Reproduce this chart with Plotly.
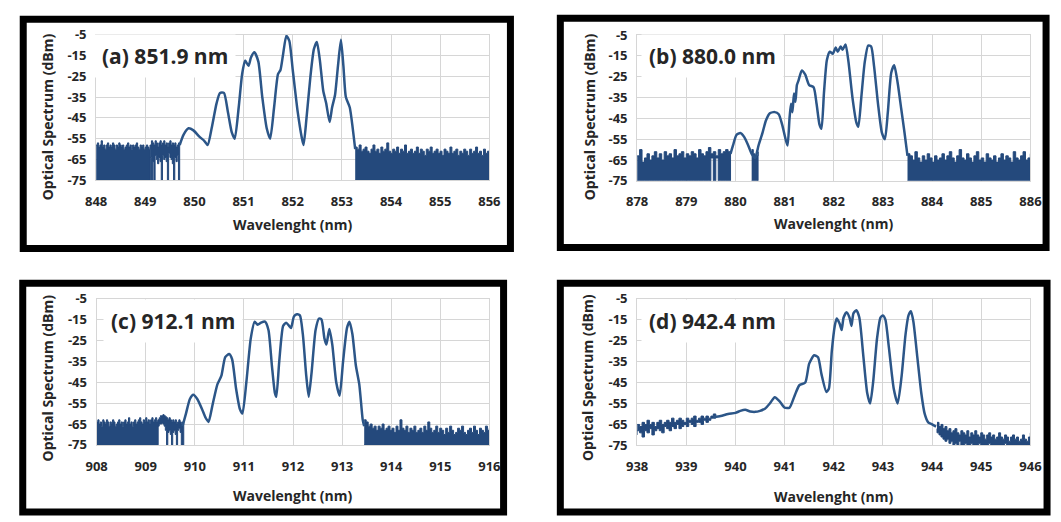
import plotly.graph_objects as go

W, H = 1061, 522
YMIN, YMAX = -75, -5

# ---------------- DATA ----------------
LABELS = ["(a) 851.9 nm", "(b) 880.0 nm", "(c) 912.1 nm", "(d) 942.4 nm"]
X_RANGES = [(848, 856), (878, 886), (908, 916), (938, 946)]
Y_TICKS = [-5, -15, -25, -35, -45, -55, -65, -75]
X_TITLE = "Wavelenght (nm)"
Y_TITLE = "Optical Spectrum (dBm)"

# (a) 851.9 nm
A_X = [849.70, 849.78, 849.88, 849.98, 850.10, 850.20, 850.27, 850.35, 850.45, 850.52,
       850.60, 850.68, 850.76, 850.82, 850.90, 850.97, 851.03, 851.10, 851.15, 851.22,
       851.30, 851.38, 851.47, 851.54, 851.62, 851.70, 851.75, 851.80, 851.87, 851.93,
       852.00, 852.10, 852.18, 852.22, 852.28, 852.36, 852.43, 852.49, 852.55, 852.62,
       852.68, 852.75, 852.80, 852.86, 852.92, 852.98, 853.03, 853.08, 853.16, 853.22, 853.27]
A_Y = [-58, -53, -50, -51, -54, -56, -58, -50, -38, -33,
       -33, -42, -52, -55, -40, -24, -17.5, -20, -16, -13.5,
       -18, -35, -50, -55, -40, -24, -22, -15, -5.5, -8,
       -22, -42, -54, -58, -45, -25, -12, -8.5, -17, -32,
       -38, -47, -40, -34, -20, -7.5, -20, -35, -40, -50, -60]
A_N1_RANGE = (848.0, 849.1)
A_N1_TOP = [-58, -57, -59, -58, -56, -59, -58, -60, -58, -57, -59, -58, -59, -57, -58,
            -60, -58, -59, -57, -58, -59, -58, -60, -59, -58, -57, -59, -58, -60, -58,
            -59, -58, -57, -59, -60, -58, -59, -58, -60, -59, -58, -59, -60, -58]
A_N2_RANGE = (849.1, 849.7)
A_N2_TOP = [-58, -56, -57, -58, -56, -57, -59, -57, -56, -58, -57, -56, -58, -57, -59,
            -57, -56, -58, -57, -58, -57, -59, -58, -57, -58]
A_N2_BOT = [-75, -64, -75, -66, -75, -63, -65, -67, -64, -66, -75, -63, -65, -64, -66,
            -75, -62, -64, -65, -67, -75, -64, -66, -63, -75]
A_N3_RANGE = (853.27, 856.0)
A_N3_TOP = [-59, -60, -58, -61, -60, -59, -61, -62, -60, -58, -61, -60, -62, -59, -61,
            -60, -57, -61, -62, -60, -61, -59, -62, -60, -61, -58, -62, -61, -60, -62,
            -61, -59, -62, -60, -61, -63, -60, -61, -59, -62, -61, -60, -62, -61, -63,
            -60, -61, -62, -59, -62, -61, -60, -63, -61, -62, -60, -61, -63, -60, -62,
            -61, -59, -62, -61, -63, -60, -62, -61, -62]

# (b) 880.0 nm
B_X = [879.90, 879.95, 880.02, 880.10, 880.18, 880.26, 880.33, 880.40, 880.47, 880.55,
       880.62, 880.70, 880.80, 880.88, 880.95, 881.02, 881.06, 881.10, 881.13, 881.16,
       881.19, 881.22, 881.25, 881.28, 881.35, 881.42, 881.50, 881.59, 881.65, 881.71,
       881.75, 881.80, 881.86, 881.92, 881.98, 882.04, 882.08, 882.14, 882.18, 882.24,
       882.30, 882.38, 882.46, 882.50, 882.56, 882.63, 882.70, 882.76, 882.82, 882.90,
       882.98, 883.04, 883.10, 883.17, 883.23, 883.30, 883.37, 883.44, 883.50]
B_Y = [-62, -58, -53, -52, -54, -58, -62, -64, -58, -52,
       -46, -42.5, -42, -43, -48, -55, -58, -45, -38, -42,
       -33, -37, -29, -27, -22, -24, -29, -30, -38, -48,
       -50, -33, -17, -13, -14, -11, -13, -10.5, -12, -9.5,
       -18, -35, -47, -49, -35, -18, -10, -10.5, -20, -38,
       -52, -55, -42, -23, -19.5, -28, -40, -52, -63]
B_N1_RANGE = (878.0, 879.9)
B_N1_TOP = [-63, -60, -66, -64, -62, -65, -63, -61, -64, -62, -65, -61, -63, -62, -64,
            -60, -63, -62, -61, -64, -62, -63, -61, -62, -64, -60, -62, -63, -61, -59,
            -62, -61, -63, -60, -62, -61, -60, -61, -62]
B_N1_BOT = [-75, -75, -75, -75, -75, -75, -75, -75, -75, -75, -75, -75, -75, -75, -75,
            -75, -75, -75, -75, -75, -75, -75, -75, -75, -75, -75, -75, -75, -75, -75,
            -75, -64, -75, -64, -75, -75, -75, -75, -75]
B_N2_RANGE = (880.33, 880.46)
B_N2_TOP = [-60, -62, -64, -63, -61]
B_N3_RANGE = (883.5, 886.0)
B_N3_TOP = [-62, -63, -65, -61, -64, -66, -63, -65, -62, -64, -66, -63, -65, -64, -62,
            -65, -63, -61, -64, -66, -63, -60, -64, -65, -62, -64, -66, -63, -61, -65,
            -64, -66, -62, -64, -65, -63, -66, -64, -62, -65, -63, -64, -66, -61, -64,
            -65, -63, -61, -65, -64, -62]

# (c) 912.1 nm
C_X = [909.75, 909.82, 909.90, 909.97, 910.05, 910.15, 910.22, 910.28, 910.36, 910.46,
       910.54, 910.62, 910.70, 910.76, 910.84, 910.92, 910.97, 911.05, 911.14, 911.22,
       911.28, 911.35, 911.43, 911.50, 911.57, 911.63, 911.66, 911.72, 911.80, 911.86,
       911.92, 911.96, 912.02, 912.08, 912.14, 912.20, 912.27, 912.32, 912.38, 912.46,
       912.53, 912.58, 912.64, 912.68, 912.74, 912.80, 912.88, 912.95, 913.02, 913.10,
       913.15, 913.21, 913.28, 913.35, 913.42, 913.45]
C_Y = [-66, -60, -53, -51, -53, -58, -62, -64, -56, -46,
       -42, -33, -31.5, -34, -48, -58, -60, -45, -24, -16,
       -17.5, -16.5, -16, -20, -37, -50, -52, -35, -18, -16.5,
       -18, -19, -13.5, -12.5, -13, -22, -42, -52, -40, -20,
       -14.5, -15, -24, -27, -19.5, -27, -45, -51.5, -35, -19,
       -16, -22, -37, -46, -63, -66]
C_N1_RANGE = (908.0, 909.25)
C_N1_TOP = [-64, -63, -65, -64, -66, -63, -64, -65, -63, -64, -66, -64, -65, -63, -64,
            -66, -65, -64, -63, -65, -64, -66, -64, -63, -65, -64, -62, -65, -64, -66,
            -64, -63, -65, -64, -63, -62, -64, -65, -63, -64, -62, -64, -63, -65, -63,
            -62, -64, -63, -62, -64, -63]
C_N2_RANGE = (909.25, 909.775)
C_N2_TOP = [-63, -62, -61, -61, -60.5, -61, -61.5, -62, -63, -62, -63, -64, -63, -64,
            -63, -65, -64, -63, -64, -65, -64, -66]
C_N2_BOT = [-75, -66, -65, -65, -64.5, -65, -66, -68, -75, -69, -68, -70, -75, -69,
            -68, -70, -75, -68, -67, -69, -75, -75]
C_N3_RANGE = (913.45, 916.0)
C_N3_TOP = [-63, -64, -66, -65, -67, -66, -68, -66, -67, -65, -68, -67, -66, -68, -67,
            -69, -66, -68, -63, -67, -68, -66, -69, -67, -68, -66, -69, -68, -67, -69,
            -66, -68, -64, -67, -69, -68, -66, -69, -67, -68, -70, -67, -69, -66, -68,
            -70, -69, -67, -68, -66, -69, -70, -68, -67, -69, -66, -68, -70, -67, -68,
            -69, -66, -68, -67]

# (d) 942.4 nm
D_X = [939.55, 939.70, 939.85, 940.00, 940.10, 940.20, 940.30, 940.40, 940.50, 940.60,
       940.70, 940.80, 940.90, 941.00, 941.10, 941.20, 941.30, 941.42, 941.50, 941.60,
       941.68, 941.75, 941.85, 941.90, 941.96, 942.02, 942.06, 942.12, 942.16, 942.20,
       942.26, 942.32, 942.36, 942.40, 942.46, 942.52, 942.60, 942.68, 942.74, 942.80,
       942.88, 942.95, 943.00, 943.05, 943.12, 943.22, 943.30, 943.38, 943.46, 943.52,
       943.57, 943.62, 943.70, 943.78, 943.85, 943.92, 944.00, 944.08]
D_Y = [-61.5, -61, -60, -59.5, -58.5, -58, -58.8, -59, -58.5, -57.5,
       -55, -52, -54, -57, -57, -51.5, -46.3, -45, -36, -32,
       -33, -41, -49.5, -48, -30, -18, -14.5, -17, -20, -14,
       -11.5, -14, -18, -12, -10.5, -14, -32, -50, -55, -45,
       -24, -14, -13, -15, -28, -48, -55, -42, -22, -13,
       -11, -16, -33, -50, -60, -64, -65, -66]
D_N1_RANGE = (938.0, 939.6)
D_N1_TOP = [-65, -66, -64, -65, -63, -65, -64, -66, -64, -63, -65, -64, -63, -64, -62,
            -64, -63, -62, -63, -64, -62, -63, -62, -61, -63, -62, -61, -62, -61, -62,
            -61, -60, -61]
D_N1_BOT = [-70, -68, -69, -71, -68, -69, -67, -70, -68, -67, -68, -69, -66, -67, -68,
            -66, -67, -65, -67, -66, -65, -66, -64, -65, -66, -64, -64, -65, -63, -64,
            -63, -62, -62]
D_N2_RANGE = (944.1, 946.0)
D_N2_TOP = [-64, -66, -65, -67, -66, -68, -67, -69, -68, -67, -69, -70, -68, -69, -70,
            -68, -71, -69, -70, -68, -70, -71, -69, -70, -72, -70, -69, -71, -70, -72,
            -71, -69, -71, -72, -70, -71, -73, -71, -70, -72, -71, -73, -72, -70, -72,
            -73, -71, -69]
D_N2_BOT = [-67, -69, -70, -71, -72, -73, -72, -74, -73, -75, -74, -75, -73, -75, -75,
            -74, -75, -75, -74, -75, -75, -75, -74, -75, -75, -75, -75, -74, -75, -75,
            -75, -75, -75, -75, -75, -74, -75, -75, -75, -75, -75, -75, -75, -75, -75,
            -75, -75, -75]

# ---------------- STYLE / LAYOUT ----------------
LINE_COLOR = "#2c5688"
NOISE_COLOR = "#24497c"
GRID_COLOR = "#d6d6d6"
TEXT_COLOR = "#262626"
FONT = "Open Sans"

# plot-area pixel boxes (left, right, top, bottom)
BOXES = [(87, 489, 26.5, 177.5), (640, 1042, 27, 178),
         (87.5, 489, 300, 451.5), (640, 1042, 300, 452)]
FRAMES = [(12.5, 510.5, 10.5, 248), (561.5, 1058, 9.5, 247),
          (12, 503.5, 284, 521), (561.5, 1059, 284, 521)]
LABEL_POS = [(93, 49), (652, 49), (102, 323), (652, 323)]
YTITLE_POS = [(37, 112), (591, 112), (37.5, 382), (590, 382)]
XTITLE_POS = [(288, 223), (841, 222), (288, 504), (841, 505)]


def px(x):
    return x / W


def py(y):
    return 1 - y / H


def grid(rng, n):
    return [rng[0] + (rng[1] - rng[0]) * i / (n - 1) for i in range(n)]


fig = go.Figure()


def add_noise(k, rng, top, bot=None):
    xt = grid(rng, len(top))
    if bot is None:
        xb, yb = [rng[1], rng[0]], [YMIN, YMIN]
    else:
        xb, yb = grid(rng, len(bot))[::-1], bot[::-1]
    fig.add_trace(go.Scatter(
        x=xt + xb, y=top + yb, mode="lines", fill="toself",
        fillcolor=NOISE_COLOR, line=dict(color=NOISE_COLOR, width=1, shape="hv"),
        xaxis=f"x{k}", yaxis=f"y{k}", hoverinfo="skip", showlegend=False))


def add_line(k, xs, ys):
    fig.add_trace(go.Scatter(
        x=xs, y=ys, mode="lines",
        line=dict(color=LINE_COLOR, width=2.5, shape="spline", smoothing=0.6),
        xaxis=f"x{k}", yaxis=f"y{k}", hoverinfo="skip", showlegend=False))


add_noise(1, A_N1_RANGE, A_N1_TOP)
add_noise(1, A_N2_RANGE, A_N2_TOP, A_N2_BOT)
add_noise(1, A_N3_RANGE, A_N3_TOP)
add_line(1, A_X, A_Y)

add_noise(2, B_N1_RANGE, B_N1_TOP, B_N1_BOT)
add_noise(2, B_N2_RANGE, B_N2_TOP)
add_noise(2, B_N3_RANGE, B_N3_TOP)
add_line(2, B_X, B_Y)

add_noise(3, C_N1_RANGE, C_N1_TOP)
add_noise(3, C_N2_RANGE, C_N2_TOP, C_N2_BOT)
add_noise(3, C_N3_RANGE, C_N3_TOP)
add_line(3, C_X, C_Y)

add_noise(4, D_N1_RANGE, D_N1_TOP, D_N1_BOT)
add_noise(4, D_N2_RANGE, D_N2_TOP, D_N2_BOT)
add_line(4, D_X, D_Y)

tickfont = dict(family=FONT, size=13, color=TEXT_COLOR, weight="bold")
layout = dict(width=W, height=H, margin=dict(l=0, r=0, t=0, b=0),
              paper_bgcolor="white", plot_bgcolor="white", showlegend=False)

shapes = []
annotations = []
for i in range(4):
    k = i + 1
    l, r, t, b = BOXES[i]
    suffix = "" if k == 1 else str(k)
    layout["xaxis" + suffix] = dict(
        domain=[px(l), px(r)], anchor="y" + suffix, range=list(X_RANGES[i]),
        tick0=X_RANGES[i][0], dtick=1, showgrid=True, gridcolor=GRID_COLOR, gridwidth=1,
        showline=True, linecolor=GRID_COLOR, linewidth=1, mirror=True, zeroline=False,
        ticks="", tickfont=tickfont, ticklabelstandoff=9, fixedrange=True)
    layout["yaxis" + suffix] = dict(
        domain=[py(b), py(t)], anchor="x" + suffix, range=[YMIN, YMAX],
        tickmode="array", tickvals=Y_TICKS, ticktext=[str(v) for v in Y_TICKS],
        showgrid=True, gridcolor=GRID_COLOR, gridwidth=1,
        showline=True, linecolor=GRID_COLOR, linewidth=1, mirror=True, zeroline=False,
        ticks="", tickfont=tickfont, ticklabelstandoff=6, fixedrange=True)

    fl, fr, ft, fb = FRAMES[i]
    shapes.append(dict(type="rect", xref="paper", yref="paper",
                       x0=px(fl), x1=px(fr), y0=py(fb), y1=py(ft),
                       line=dict(color="black", width=7), layer="above"))

    pad = 7
    lx, ly = LABEL_POS[i]
    annotations.append(dict(
        text=LABELS[i], xref="paper", yref="paper", x=px(lx - pad - 1), y=py(ly),
        xanchor="left", yanchor="middle", showarrow=False, bgcolor="white",
        borderpad=pad, font=dict(family=FONT, size=21, color=TEXT_COLOR, weight="bold")))
    yx, yy = YTITLE_POS[i]
    annotations.append(dict(
        text=Y_TITLE, xref="paper", yref="paper", x=px(yx), y=py(yy),
        xanchor="center", yanchor="middle", showarrow=False, textangle=-90,
        font=dict(family=FONT, size=14, color=TEXT_COLOR, weight="bold")))
    tx, ty = XTITLE_POS[i]
    annotations.append(dict(
        text=X_TITLE, xref="paper", yref="paper", x=px(tx), y=py(ty),
        xanchor="center", yanchor="middle", showarrow=False,
        font=dict(family=FONT, size=14, color=TEXT_COLOR, weight="bold")))

layout["shapes"] = shapes
layout["annotations"] = annotations
fig.update_layout(**layout)
fig.write_html("out.html")
